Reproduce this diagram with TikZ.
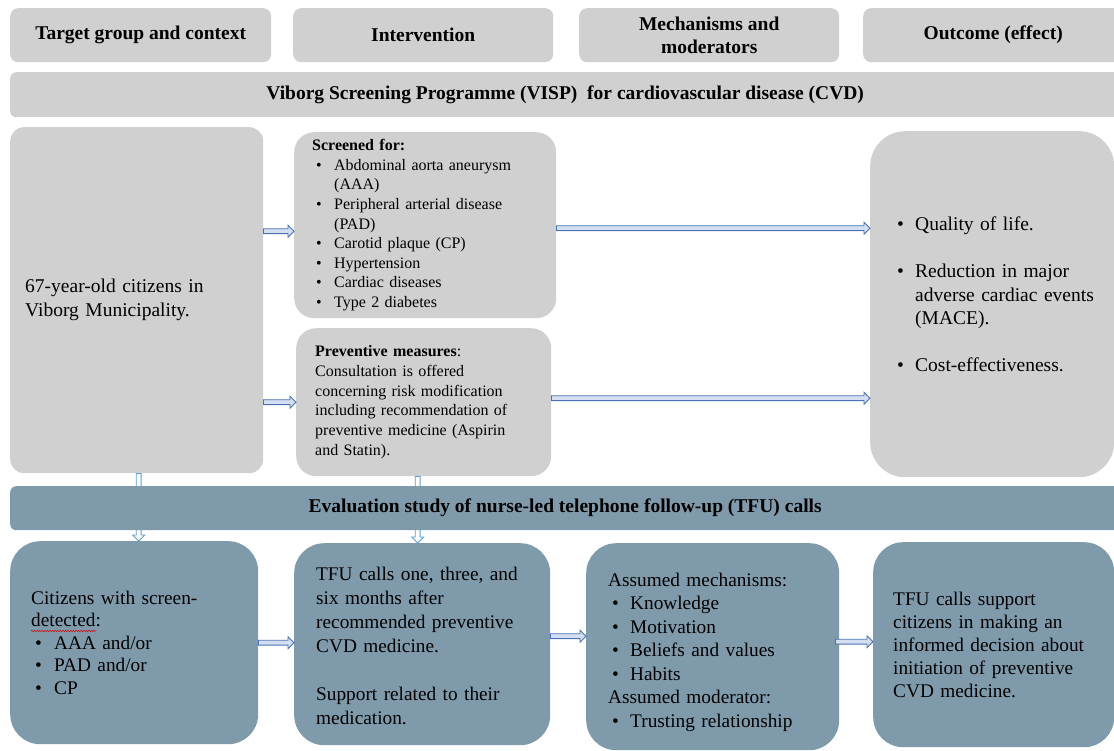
\documentclass[tikz,border=0pt]{standalone}
\usepackage{fontspec}
\setmainfont{Liberation Serif}
\usetikzlibrary{calc,decorations.pathmorphing}
\definecolor{boxgray}{HTML}{D0D0D0}
\definecolor{boxblue}{HTML}{7F9BAB}
\definecolor{arrblue}{HTML}{4A72B8}
\definecolor{arrlight}{HTML}{5B9BD5}
\definecolor{arrin}{HTML}{D3DEF1}
\newcommand{\bl}[1][22pt]{\makebox[#1][l]{\hspace{4pt}\textbullet}}
\newcommand{\ind}[1][22pt]{\hspace*{#1}}
% block arrow from coordinate #2 to coordinate #3
\newcommand{\blockarrow}[3][harr]{%
  \coordinate (bp) at ($(#3)!6pt!(#2)$);
  \draw[#1] ($(#2)!2.4pt!90:(#3)$) -- ($(bp)!2.4pt!-90:(#2)$) -- ($(bp)!6pt!-90:(#2)$)
    -- (#3) -- ($(bp)!6pt!90:(#2)$) -- ($(bp)!2.4pt!90:(#2)$) -- ($(#2)!2.4pt!-90:(#3)$) -- cycle;}
\begin{document}
\begin{tikzpicture}[x=1pt,y=-1pt,
  hdr/.style={fill=boxgray, draw=none, rounded corners=8pt, anchor=north west, align=center,
    font=\bfseries\fontsize{19.5}{23}\selectfont, inner sep=0pt},
  gbox/.style={fill=boxgray, draw=none, anchor=north west, align=left},
  bbox/.style={fill=boxblue, draw=none, anchor=north west, align=left, rounded corners=30pt,
    font=\fontsize{19.3}{23.5}\selectfont},
  harr/.style={draw=arrblue, fill=arrin, line width=0.8pt, line join=miter},
  varr/.style={draw=arrlight, fill=white, line width=0.8pt, line join=miter},
]
\useasboundingbox (0,0) rectangle (1114,750);
% header row
\node[hdr, minimum width=261pt, minimum height=54pt] (h1) at (10,8) {Target group and context};
\node[hdr, minimum width=260pt, minimum height=54pt] (h2) at (293,8) {Intervention};
\node[hdr, minimum width=260pt, minimum height=54pt] (h3) at (579,8) {Mechanisms and\\moderators};
\node[hdr, minimum width=260pt, minimum height=54pt] (h4) at (863,8) {Outcome (effect)};
% VISP bar
\node[hdr, rounded corners=6pt, minimum width=1110pt, minimum height=45pt] (visp) at (10,72)
  {Viborg Screening Programme (VISP)\ \ for cardiovascular disease (CVD)};
% upper boxes
\node[gbox, rounded corners=14pt, minimum width=253pt, minimum height=346pt, inner xsep=15pt,
  text width=223pt, font=\fontsize{19.5}{24}\selectfont] (pop) at (10,127)
  {67-year-old citizens in\\Viborg Municipality.};
\node[gbox, rounded corners=20pt, minimum width=262pt, minimum height=186pt, inner xsep=18pt,
  text width=226pt, font=\fontsize{16}{19.6}\selectfont] (scr) at (294,132)
  {\textbf{Screened for:}\\
   \bl Abdominal aorta aneurysm\\
   \ind (AAA)\\
   \bl Peripheral arterial disease\\
   \ind (PAD)\\
   \bl Carotid plaque (CP)\\
   \bl Hypertension\\
   \bl Cardiac diseases\\
   \bl Type 2 diabetes};
\node[gbox, rounded corners=20pt, minimum width=255pt, minimum height=148pt, inner xsep=19pt,
  text width=217pt, font=\fontsize{16}{19.7}\selectfont] (prev) at (296,328)
  {\textbf{Preventive measures}:\\Consultation is offered\\concerning risk modification\\including recommendation of\\preventive medicine (Aspirin\\and Statin).};
\node[gbox, rounded corners=35pt, minimum width=244pt, minimum height=346pt, inner xsep=23pt,
  text width=198pt, font=\fontsize{19.5}{23.5}\selectfont] (out) at (870,131)
  {\mbox{\bl Quality of life.}\\[23.5pt]
   \mbox{\bl Reduction in major}\\
   \mbox{\ind adverse cardiac events}\\
   \mbox{\ind (MACE).}\\[23.5pt]
   \mbox{\bl Cost-effectiveness.}\\[-4pt]\mbox{}};
% lower boxes
\node[bbox, minimum width=248pt, minimum height=203pt, inner xsep=21pt, text width=206pt,
  font=\fontsize{19.3}{22.5}\selectfont] (cit) at (10,541)
  {Citizens with screen-\\detected:\\\bl[23pt]AAA and/or\\\bl[23pt]PAD and/or\\\bl[23pt]CP};
\node[bbox, minimum width=256pt, minimum height=202pt, inner xsep=22pt, text width=212pt,
  font=\fontsize{19.3}{24}\selectfont] (tfu) at (294,543)
  {\rule{0pt}{17pt}TFU calls one, three, and\\six months after\\recommended preventive\\CVD medicine.\\[24pt]Support related to their\\medication.};
\node[bbox, minimum width=253pt, minimum height=207pt, inner xsep=22pt, text width=209pt] (mech) at (586,543)
  {\rule{0pt}{24pt}Assumed mechanisms:\\\bl Knowledge\\\bl Motivation\\\bl Beliefs and values\\\bl Habits\\Assumed moderator:\\\bl Trusting relationship};
\node[bbox, minimum width=241pt, minimum height=205pt, inner xsep=20pt, text width=201pt,
  font=\fontsize{19.3}{23}\selectfont] (eff) at (873,542)
  {TFU calls support\\citizens in making an\\informed decision about\\initiation of preventive\\CVD medicine.};
% spell-check mark under "detected"
\draw[red!85!black, line width=0.5pt, decorate, decoration={snake, amplitude=0.7pt, segment length=2.6pt}]
  (31,631) -- (96,631);
% connector end points
\coordinate (a1s) at ([yshift=-6pt]pop.east |- scr.west);  \coordinate (a1t) at ([yshift=-6pt]scr.west);
\coordinate (a2s) at (pop.east |- prev.west); \coordinate (a2t) at (prev.west);
\coordinate (a3s) at ([yshift=-3pt]scr.east);  \coordinate (a3t) at ([yshift=-3pt]scr.east -| out.west);
\coordinate (a4s) at ([yshift=4pt]prev.east); \coordinate (a4t) at ([yshift=4pt]prev.east -| out.west);
\coordinate (a5s) at ([xshift=2pt]pop.south);  \coordinate (a5t) at ([xshift=2pt]pop.south |- cit.north);
\coordinate (a6s) at ([xshift=-6pt]prev.south); \coordinate (a6t) at ([xshift=-6pt]prev.south |- tfu.north);
\coordinate (a7s) at (cit.east);               \coordinate (a7t) at (cit.east -| tfu.west);
\coordinate (a8s) at ([yshift=8pt]tfu.east);  \coordinate (a8t) at ([yshift=8pt]tfu.east -| mech.west);
\coordinate (a9s) at ([yshift=5pt,xshift=-4pt]mech.east); \coordinate (a9t) at ([yshift=5pt]mech.east -| eff.west);
% connectors
\blockarrow{a1s}{a1t}
\blockarrow{a2s}{a2t}
\blockarrow{a3s}{a3t}
\blockarrow{a4s}{a4t}
\blockarrow[varr]{a5s}{a5t}
\blockarrow[varr]{a6s}{a6t}
\blockarrow{a7s}{a7t}
\blockarrow{a8s}{a8t}
\blockarrow{a9s}{a9t}
% evaluation bar (over the vertical connectors)
\node[hdr, fill=boxblue, rounded corners=6pt, minimum width=1110pt, minimum height=44pt] (eval) at (10,486)
  {Evaluation study of nurse-led telephone follow-up (TFU) calls};
\end{tikzpicture}
\end{document}
